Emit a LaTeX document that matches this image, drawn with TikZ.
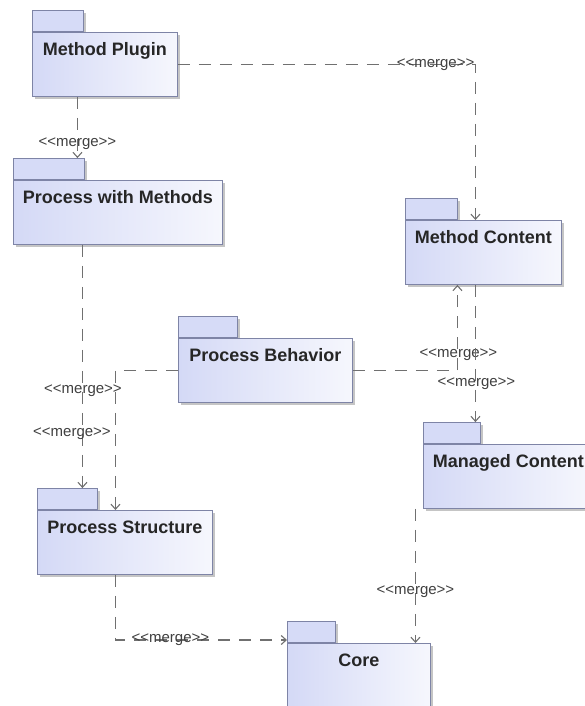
\documentclass[tikz,border=0pt]{standalone}
\usepackage{fontspec}
\setmainfont{Liberation Sans}
\usetikzlibrary{arrows.meta,shadows}

\definecolor{pkgline}{HTML}{7E84A6}
\definecolor{pkgdark}{HTML}{D4D9F6}
\definecolor{pkglight}{HTML}{F6F7FD}
\definecolor{tabfill}{HTML}{D6DBF7}
\definecolor{connline}{HTML}{707070}

\pgfdeclarelayer{paper}
\pgfdeclarelayer{tabs}
\pgfsetlayers{paper,tabs,main}

% stereotype text, kerned so the font mapping keeps plain angle brackets
\newcommand{\mrg}{<\kern0pt<merge>\kern0pt>}

\begin{document}
\begin{tikzpicture}[x=1pt,y=-1pt,
  pkgshadow/.style={drop shadow={shadow xshift=2.5pt, shadow yshift=-2.5pt, fill=black!50, opacity=0.45}},
  pkg/.style={draw=pkgline, line width=0.9pt, left color=pkgdark, right color=pkglight,
    anchor=north west, inner ysep=0pt, inner xsep=4pt, text height=23pt, text depth=41pt,
    font=\fontsize{18}{20}\selectfont\bfseries, text=black!85, pkgshadow},
  pkgtab/.style={draw=pkgline, line width=0.9pt, fill=tabfill, anchor=south west,
    minimum height=21pt, inner sep=0pt, pkgshadow},
  conn/.style={draw=connline, line width=1.1pt, dash pattern=on 12pt off 9pt,
    -{Straight Barb[length=5pt,width=9pt]}},
  lbl/.style={font=\fontsize{15}{17}\selectfont, text=black!75, inner sep=0pt}
]
\begin{pgfonlayer}{paper}
\fill[white] (0,0) rectangle (585,706);
\end{pgfonlayer}
\clip (0,0) rectangle (585,706);

% package bodies
\node[pkg, minimum width=145pt] (mp)   at (32,32)   {Method Plugin};
\node[pkg, minimum width=209pt] (pwm)  at (13,180)  {Process with Methods};
\node[pkg, minimum width=156pt] (mc)   at (405,220) {Method Content};
\node[pkg, minimum width=174pt] (pb)   at (178,338) {Process Behavior};
\node[pkg, minimum width=175pt] (ps)   at (37,510)  {Process Structure};
\node[pkg, minimum width=170pt] (mgc)  at (423,444) {Managed Content};
\node[pkg, minimum width=143pt, text depth=60pt] (core) at (287,643) {Core};

% package tabs, kept behind the bodies
\begin{pgfonlayer}{tabs}
\node[pkgtab, minimum width=51pt] (mpT)   at (mp.north west)   {};
\node[pkgtab, minimum width=71pt] (pwmT)  at (pwm.north west)  {};
\node[pkgtab, minimum width=52pt] (mcT)   at (mc.north west)   {};
\node[pkgtab, minimum width=59pt] (pbT)   at (pb.north west)   {};
\node[pkgtab, minimum width=60pt] (psT)   at (ps.north west)   {};
\node[pkgtab, minimum width=57pt] (mgcT)  at (mgc.north west)  {};
\node[pkgtab, minimum width=48pt] (coreT) at (core.north west) {};
\end{pgfonlayer}

% merge dependencies
\coordinate (s1) at ([xshift=-27.5pt]mp.south);
\draw[conn] (s1) -- (s1 |- pwmT.north) node[lbl, pos=0.77] {\mrg};

\coordinate (e2) at ([xshift=-8pt]mc.north);
\draw[conn] (mp.east) -| node[lbl, pos=0.433] {\mrg} (e2);

\coordinate (s3) at ([xshift=-35.5pt]pwm.south);
\draw[conn] (s3) -- (s3 |- psT.north) node[lbl, pos=0.775, xshift=-10.5pt] {\mrg};

\coordinate (e4) at ([xshift=-9.5pt]ps.north);
\draw[conn] (pb.west) -| node[lbl, pos=0.571, xshift=-32.5pt] {\mrg} (e4);

\coordinate (e5) at ([xshift=-26pt]mc.south);
\draw[conn] (pb.east) -| node[lbl, pos=0.593, xshift=1pt] {\mrg} (e5);

\coordinate (s6) at ([xshift=-8pt]mc.south);
\draw[conn] (s6) -- (s6 |- mgcT.north) node[lbl, pos=0.72, xshift=1pt] {\mrg};

\coordinate (e7) at ([xshift=56.5pt]core.north);
\draw[conn] (e7 |- mgc.south) -- (e7) node[lbl, pos=0.62] {\mrg};

\coordinate (s8) at ([xshift=-9.5pt]ps.south);
\coordinate (e8) at ([yshift=3pt]coreT.south west);
\draw[conn] (s8) |- node[lbl, pos=0.66] {\mrg} (e8);
\end{tikzpicture}
\end{document}
